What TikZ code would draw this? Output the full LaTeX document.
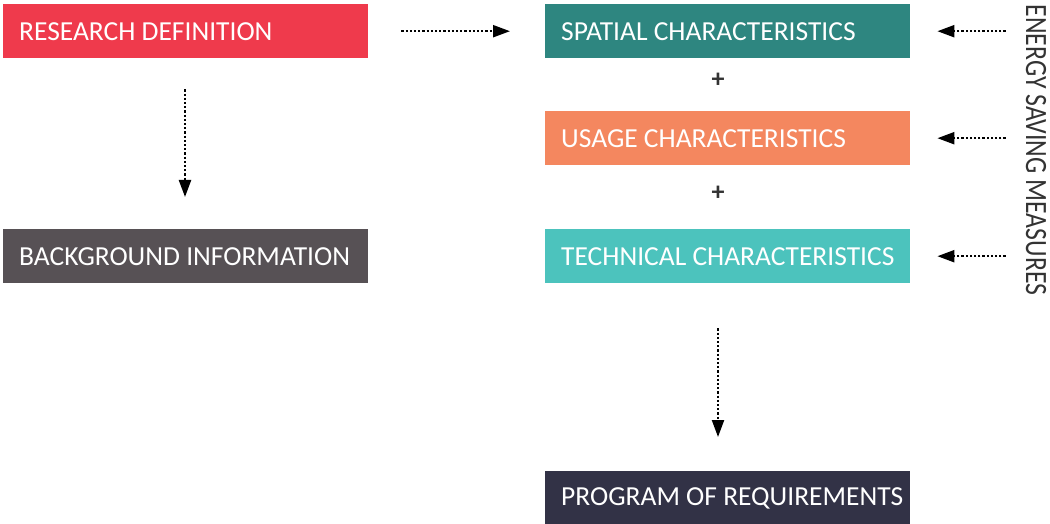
\documentclass[tikz,border=0pt]{standalone}
\usepackage{fontspec}
\setmainfont{Carlito}
\newfontfamily\esmfont[FakeStretch=0.83]{Carlito}
\usetikzlibrary{arrows.meta}
\definecolor[named]{StRed}{HTML}{EF3A4C}
\definecolor[named]{StGrey}{HTML}{575155}
\definecolor[named]{StTeal}{HTML}{2E8680}
\definecolor[named]{StOrange}{HTML}{F4875F}
\definecolor[named]{StCyan}{HTML}{4CC3BD}
\definecolor[named]{StNavy}{HTML}{323246}
\colorlet{lbl}{black!80}
\tikzset{stp/.style={
  x=1pt,
  y=-1pt
}}
\tikzset{stn/.style={
  shape=rectangle,
  anchor=north west,
  text=white,
  minimum height=54pt,
  inner xsep=16pt,
  inner ysep=0pt,
  font=\fontsize{27.5}{32}\selectfont
}}
\tikzset{pls/.style={
  text=lbl,
  font=\fontsize{26}{30}\selectfont\bfseries
}}
\tikzset{dar/.style={
  line width=2.2pt,
  dash pattern=on 2.2pt off 2pt,
  -{Triangle[length=17pt,width=12pt]}
}}
\newcommand{\stt}[1]{\makebox[333pt][l]{#1}}

\begin{document}
\begin{tikzpicture}[stp]

    \useasboundingbox (0,0) rectangle (1050,524);

    %% Left column

    \node[stn,fill=StRed] (rd) at (3,4) {\stt{RESEARCH DEFINITION}};
    \node[stn,fill=StGrey] (bg) at (3,229) {\stt{BACKGROUND INFORMATION}};

    %% Right column

    \node[stn,fill=StTeal] (sp) at (545,4) {\stt{SPATIAL CHARACTERISTICS}};
    \node[pls] (p1) at (718,80) {+};
    \node[stn,fill=StOrange] (us) at (545,111) {\stt{USAGE CHARACTERISTICS}};
    \node[pls] (p2) at (718,193) {+};
    \node[stn,fill=StCyan] (te) at (545,229) {\stt{TECHNICAL CHARACTERISTICS}};
    \node[stn,fill=StNavy] (pr) at (545,471) {\stt{PROGRAM OF REQUIREMENTS}};

    % Side label
    \node[rotate=-90,inner sep=0pt,text=lbl,
          font=\esmfont\fontsize{31}{34}\selectfont] (esm) at (1036,150)
      {ENERGY SAVING MEASURES};

    %% Arrows

    \draw[dar,shorten <=33pt,shorten >=35pt] (rd.east) -- (sp.west);
    \draw[dar,shorten <=31pt,shorten >=32pt] (rd.south -| 185,0) -- (bg.north -| 185,0);
    \draw[dar,shorten <=45pt,shorten >=34pt] (te.south -| p2) -- (pr.north -| p2);
    \draw[dar,shorten <=20pt,shorten >=27pt] (esm.south |- sp.east) -- (sp.east);
    \draw[dar,shorten <=20pt,shorten >=27pt] (esm.south |- us.east) -- (us.east);
    \draw[dar,shorten <=20pt,shorten >=27pt] (esm.south |- te.east) -- (te.east);

  \end{tikzpicture}
\end{document}
